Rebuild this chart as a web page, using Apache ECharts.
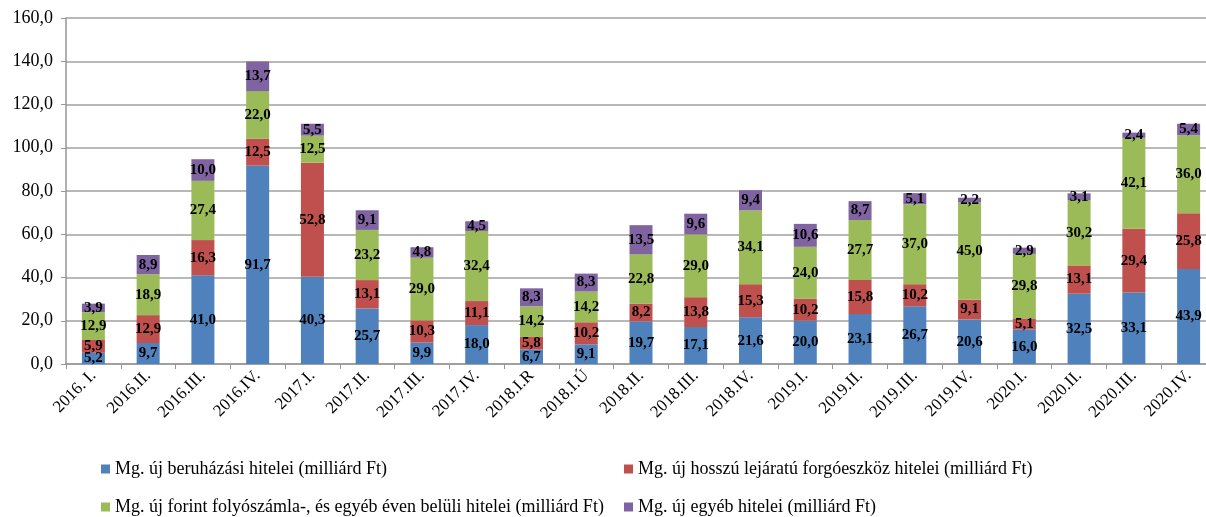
<!DOCTYPE html>
<html>
<head>
<meta charset="utf-8">
<script src="https://cdn.jsdelivr.net/npm/echarts@6/dist/echarts.min.js"></script>
<style>
  html, body { margin: 0; padding: 0; background: #fff; }
  #chart { width: 1206px; height: 517px; }
</style>
</head>
<body>
<div id="chart"></div>
<script>
// negyedévek
var categories = ['2016. I.', '2016.II.', '2016.III.', '2016.IV.', '2017.I.', '2017.II.', '2017.III.', '2017.IV.',
  '2018.I.R', '2018.I.Ú', '2018.II.', '2018.III.', '2018.IV.', '2019.I.', '2019.II.', '2019.III.', '2019.IV.',
  '2020.I.', '2020.II.', '2020.III.', '2020.IV.'];

var seriesNames = [
  'Mg. új beruházási hitelei (milliárd Ft)',
  'Mg. új hosszú lejáratú forgóeszköz hitelei (milliárd Ft)',
  'Mg. új forint folyószámla-, és egyéb éven belüli hitelei (milliárd Ft)',
  'Mg. új egyéb hitelei (milliárd Ft)'
];

var beruhazasi = [5.2, 9.7, 41.0, 91.7, 40.3, 25.7, 9.9, 18.0, 6.7, 9.1, 19.7, 17.1, 21.6, 20.0, 23.1, 26.7, 20.6, 16.0, 32.5, 33.1, 43.9];
var forgoeszkoz = [5.9, 12.9, 16.3, 12.5, 52.8, 13.1, 10.3, 11.1, 5.8, 10.2, 8.2, 13.8, 15.3, 10.2, 15.8, 10.2, 9.1, 5.1, 13.1, 29.4, 25.8];
var folyoszamla = [12.9, 18.9, 27.4, 22.0, 12.5, 23.2, 29.0, 32.4, 14.2, 14.2, 22.8, 29.0, 34.1, 24.0, 27.7, 37.0, 45.0, 29.8, 30.2, 42.1, 36.0];
var egyeb = [3.9, 8.9, 10.0, 13.7, 5.5, 9.1, 4.8, 4.5, 8.3, 8.3, 13.5, 9.6, 9.4, 10.6, 8.7, 5.1, 2.2, 2.9, 3.1, 2.4, 5.4];

var colors = ['#4f81bd', '#c0504d', '#9bbb59', '#8064a2'];
var font = 'Liberation Serif';

function fmt(v) {
  return Number(v).toFixed(1).replace('.', ',');
}

var myChart = echarts.init(document.getElementById('chart'));

var labelOption = {
  show: true,
  position: 'inside',
  color: '#000',
  fontFamily: font,
  fontWeight: 'bold',
  fontSize: 15,
  formatter: function (p) { return fmt(p.value); }
};

function makeSeries(name, data, color) {
  return {
    name: name,
    type: 'bar',
    stack: 'total',
    barWidth: 23,
    data: data,
    itemStyle: { color: color },
    label: labelOption
  };
}

var legendText = { fontFamily: font, fontSize: 18, color: '#000' };
function makeLegend(name, left, top) {
  return {
    data: [name],
    left: left,
    top: top,
    icon: 'rect',
    itemWidth: 9,
    itemHeight: 9,
    itemGap: 0,
    padding: 0,
    textStyle: legendText
  };
}

var option = {
  animation: false,
  color: colors,
  grid: {
    left: 66,
    top: 18,
    bottom: 153,
    width: 1150,
    outerBoundsMode: 'none'
  },
  legend: [
    makeLegend(seriesNames[0], 101, 460),
    makeLegend(seriesNames[1], 624, 460),
    makeLegend(seriesNames[2], 101, 498),
    makeLegend(seriesNames[3], 624, 498)
  ],
  xAxis: {
    type: 'category',
    data: categories,
    axisLine: { lineStyle: { color: '#969696', width: 1.5 } },
    axisTick: { show: true, alignWithLabel: false, length: 5, lineStyle: { color: '#969696' } },
    axisLabel: {
      rotate: 45,
      interval: 0,
      color: '#000',
      fontFamily: font,
      fontSize: 17,
      margin: 9
    }
  },
  yAxis: {
    type: 'value',
    min: 0,
    max: 160,
    interval: 20,
    axisLine: { show: true, lineStyle: { color: '#969696', width: 1.5 } },
    axisTick: { show: true, length: 5, lineStyle: { color: '#969696' } },
    splitLine: { lineStyle: { color: '#a0a0a0', width: 1.5 } },
    axisLabel: {
      color: '#000',
      fontFamily: font,
      fontSize: 18,
      margin: 13,
      formatter: fmt
    }
  },
  series: [
    makeSeries(seriesNames[0], beruhazasi, colors[0]),
    makeSeries(seriesNames[1], forgoeszkoz, colors[1]),
    makeSeries(seriesNames[2], folyoszamla, colors[2]),
    makeSeries(seriesNames[3], egyeb, colors[3])
  ]
};

myChart.setOption(option);
</script>
</body>
</html>
